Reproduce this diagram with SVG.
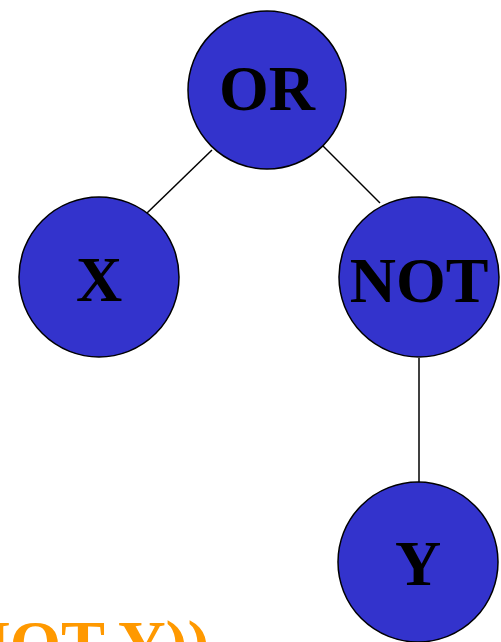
<svg xmlns="http://www.w3.org/2000/svg" width="501" height="642" viewBox="0 0 501 642">
<style>
.node{fill:#3333CC;stroke:#000;stroke-width:1.5}
.lbl{font-family:"Liberation Serif","Times New Roman",serif;font-weight:bold;font-size:64px;text-anchor:middle;fill:#000}
.edge{stroke:#000;stroke-width:1.5;fill:none}
</style>
<rect width="501" height="642" fill="#fff"/>
<g id="connectors">
<line class="edge" x1="212" y1="150" x2="147" y2="213"/>
<line class="edge" x1="323" y1="146" x2="380" y2="203"/>
<line class="edge" x1="419" y1="358" x2="419" y2="482"/>
</g>
<g id="node-or"><circle class="node" cx="267" cy="90" r="79"/><text class="lbl" x="267" y="110">OR</text></g>
<g id="node-x"><circle class="node" cx="99" cy="277" r="80"/><text class="lbl" x="99" y="301">X</text></g>
<g id="node-not"><circle class="node" cx="419" cy="277" r="80"/><text class="lbl" x="419" y="302">NOT</text></g>
<g id="node-y"><circle class="node" cx="418" cy="562" r="80"/><text class="lbl" x="418" y="585">Y</text></g>
<text x="-38" y="666" font-family="Liberation Serif,'Times New Roman',serif" font-weight="bold" font-size="66" fill="#FF9900">NOT Y))</text>
</svg>
